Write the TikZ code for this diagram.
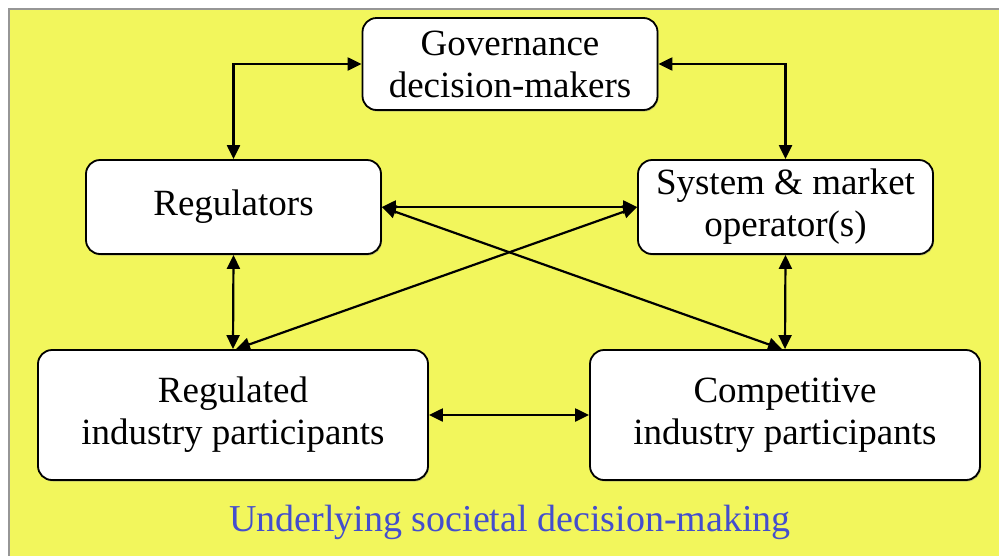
\documentclass[tikz,border=0pt]{standalone}
\usepackage{fontspec}
\setmainfont{Liberation Serif}
\usetikzlibrary{arrows.meta,shadows}
\definecolor{bgyellow}{RGB}{242,246,92}
\definecolor{txtblue}{RGB}{68,78,205}
\definecolor{bordergray}{RGB}{150,150,150}
\tikzset{
  box/.style={draw=black,line width=1.8pt,fill=white,rounded corners=14pt,
    align=center,font=\fontsize{37}{42}\selectfont,inner sep=0pt,
    drop shadow={opacity=0.45,shadow xshift=1pt,shadow yshift=-1.5pt}},
  link/.style={line width=2.2pt,{Triangle[length=14pt,width=13pt]}-{Triangle[length=14pt,width=13pt]}}
}
\begin{document}
\begin{tikzpicture}[x=1pt,y=-1pt]
\useasboundingbox (0,0) rectangle (999,555);
\fill[white] (0,0) rectangle (999,555);
\draw[bordergray,line width=2pt,fill=bgyellow] (9,9) rectangle (1010,565);
\node[box,minimum width=295pt,minimum height=92pt] (gov) at (510,64) {Governance\\decision-makers};
\node[box,minimum width=295pt,minimum height=94pt] (reg) at (233.5,207) {Regulators};
\node[box,minimum width=295pt,minimum height=94pt] (sys) at (785.5,207) {System \& market\\operator(s)};
\node[box,minimum width=390pt,minimum height=130pt] (regd) at (233,415) {Regulated\\industry participants};
\node[box,minimum width=390pt,minimum height=130pt] (comp) at (785,415) {Competitive\\industry participants};
\node[text=txtblue,font=\fontsize{38}{42}\selectfont] (soc) at (510,522) {Underlying societal decision-making};
\draw[link] (gov.west) -| (reg.north);
\draw[link] (gov.east) -| (sys.north);
\draw[link] (reg.south) -- (regd.north);
\draw[link] (sys.south) -- (comp.north);
\draw[link] (reg.east) -- (sys.west);
\draw[link] (reg.east) -- ([xshift=-3pt]comp.north);
\draw[link] ([xshift=3pt]regd.north) -- (sys.west);
\draw[link] (regd.east) -- (comp.west);
\end{tikzpicture}
\end{document}
